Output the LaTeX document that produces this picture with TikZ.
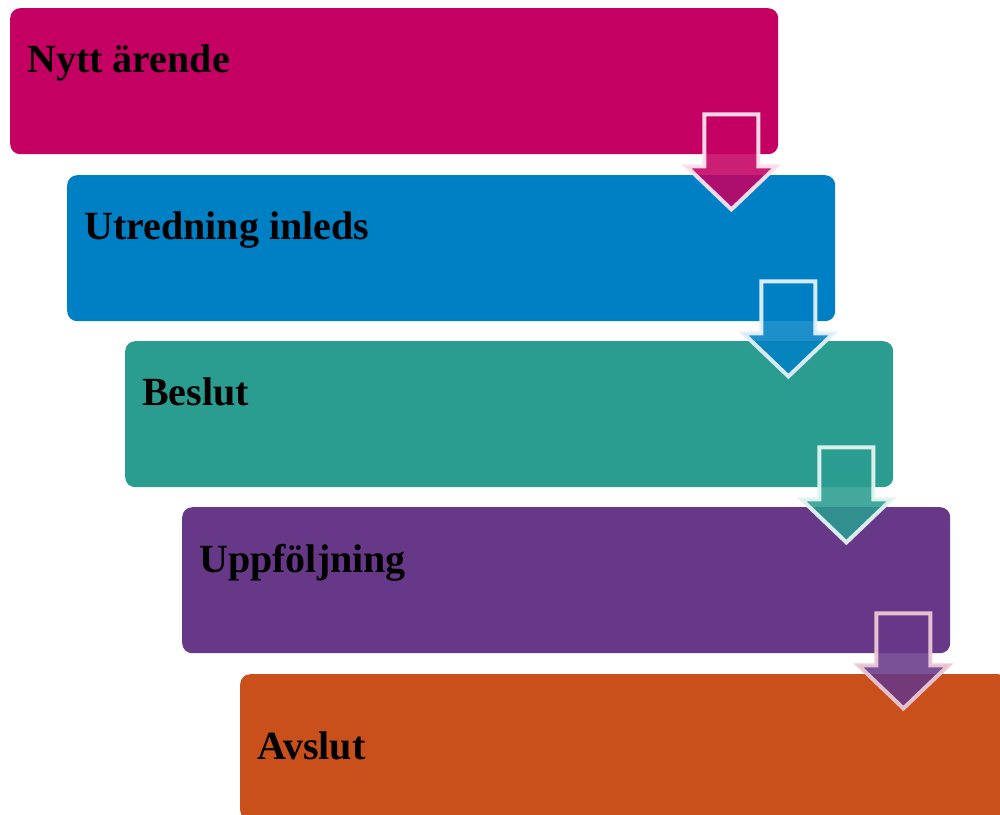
\documentclass[tikz,border=0pt]{standalone}
\usepackage{fontspec}
\setmainfont{Liberation Serif}
\definecolor{cA}{RGB}{196,0,98}
\definecolor{cB}{RGB}{0,128,196}
\definecolor{cC}{RGB}{42,157,144}
\definecolor{cD}{RGB}{104,56,136}
\definecolor{cE}{RGB}{201,80,26}
\definecolor{oA}{RGB}{250,226,238}
\definecolor{oB}{RGB}{226,240,250}
\definecolor{oC}{RGB}{226,244,242}
\definecolor{oD}{RGB}{234,200,214}
\tikzset{
  stagebox/.style={rectangle, rounded corners=10pt, minimum width=768pt, minimum height=146pt, inner sep=0pt, anchor=north west},
  stagelabel/.style={anchor=base west, inner sep=0pt, font=\fontsize{40}{46}\selectfont\bfseries, text=black},
  flowarrow/.style={line width=4pt, line join=miter, fill opacity=0.88, draw opacity=0.95}
}
\newcommand{\stagearrow}[3]{%
  \draw[flowarrow, fill=#2, draw=#3, shift={(#1.south east)}]
    (-74,-40) -- (-20,-40) -- (-20,12) -- (-2,12) -- (-47,55) -- (-92,12) -- (-74,12) -- cycle;}
\begin{document}
\begin{tikzpicture}[x=1pt,y=-1pt]
\useasboundingbox (0,0) rectangle (1000,814);
\begin{scope}
\clip (0,0) rectangle (1000,814);
\node[stagebox, fill=cA] (b1) at (10,8) {};
\node[stagebox, fill=cB] (b2) at (67,175) {};
\node[stagebox, fill=cC] (b3) at (125,341) {};
\node[stagebox, fill=cD] (b4) at (182,507) {};
\node[stagebox, fill=cE] (b5) at (240,674) {};
\node[stagelabel] (t1) at (27,72) {Nytt ärende};
\node[stagelabel] (t2) at (84,239) {Utredning inleds};
\node[stagelabel] (t3) at (142,405) {Beslut};
\node[stagelabel] (t4) at (199,572) {Uppföljning};
\node[stagelabel] (t5) at (257,759) {Avslut};
\stagearrow{b1}{cA}{oA}
\stagearrow{b2}{cB}{oB}
\stagearrow{b3}{cC}{oC}
\stagearrow{b4}{cD}{oD}
\end{scope}
\end{tikzpicture}
\end{document}
